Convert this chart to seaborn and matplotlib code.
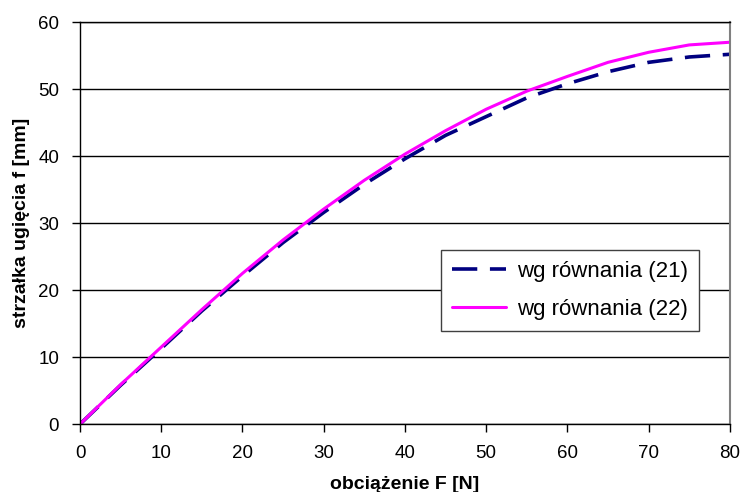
import seaborn as sns
import matplotlib.pyplot as plt
import pandas as pd

sns.set_theme(style="white")
plt.rcParams["font.family"] = ["Liberation Sans", "DejaVu Sans"]
plt.rcParams["text.color"] = "black"
plt.rcParams["axes.labelcolor"] = "black"
plt.rcParams["xtick.color"] = "black"
plt.rcParams["ytick.color"] = "black"

load_F = [0, 5, 10, 15, 20, 25, 30, 35, 40, 45, 50, 55, 60, 65, 70, 75, 80]
f_eq21 = [0, 5.8, 11.3, 16.9, 22.1, 27.1, 31.6, 35.8, 39.6, 43.1, 45.9,
          48.7, 50.8, 52.6, 54.0, 54.8, 55.2]
f_eq22 = [0, 5.9, 11.5, 17.1, 22.5, 27.5, 32.1, 36.4, 40.3, 43.8, 47.0,
          49.7, 51.9, 54.0, 55.5, 56.6, 57.0]
labels = ["wg równania (21)", "wg równania (22)"]

data = pd.DataFrame({"F": load_F, "eq21": f_eq21, "eq22": f_eq22})

fig = plt.figure(figsize=(7.41, 4.92), dpi=100)
ax = fig.add_axes([0.108, 0.138, 0.877, 0.817])

sns.lineplot(data=data, x="F", y="eq21", ax=ax, color="#000080",
             linewidth=2.6, label=labels[0])
ax.lines[-1].set_dashes([7, 3.5])
sns.lineplot(data=data, x="F", y="eq22", ax=ax, color="#ff00ff",
             linewidth=2.2, label=labels[1])

ax.set_xlim(0, 80)
ax.set_ylim(0, 60)
ax.set_xticks(range(0, 81, 10))
ax.set_yticks(range(0, 61, 10))
ax.yaxis.grid(True, color="black", linewidth=1)
ax.set_axisbelow(True)

for side in ["left", "bottom", "top"]:
    ax.spines[side].set_color("black")
    ax.spines[side].set_linewidth(1)
ax.spines["right"].set_color("#808080")
ax.spines["right"].set_linewidth(1.5)

ax.tick_params(axis="both", direction="out", length=6, width=1,
               color="black", labelsize=13.5, pad=9, bottom=True, left=True)
ax.set_xlabel("obciążenie F [N]", fontsize=14, fontweight="bold", labelpad=10)
ax.set_ylabel("strzałka ugięcia f [mm]", fontsize=14, fontweight="bold",
              labelpad=6)

leg = ax.legend(loc="upper left", bbox_to_anchor=(0.556, 0.433), fontsize=16,
                frameon=True, fancybox=False, framealpha=1, handlelength=2.4,
                borderpad=0.5, labelspacing=0.75, handletextpad=0.5,
                borderaxespad=0)
leg.get_frame().set_edgecolor("#404040")
leg.get_frame().set_linewidth(1)

fig.savefig("out.png", dpi=100)
